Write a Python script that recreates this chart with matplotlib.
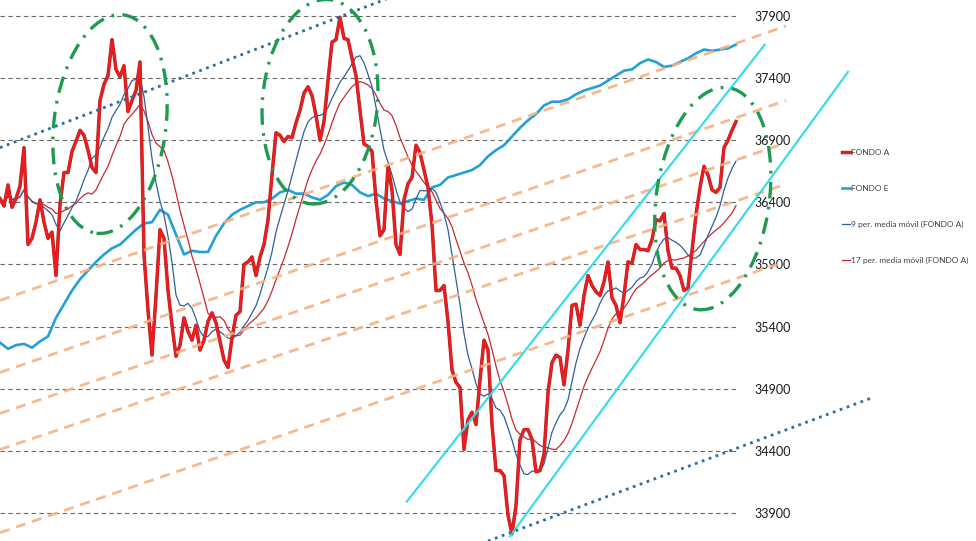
import numpy as np
import pandas as pd
import matplotlib
matplotlib.use('Agg')
import matplotlib.pyplot as plt
import matplotlib.patheffects as pe
import matplotlib.transforms as mtransforms
from matplotlib.patches import Ellipse
from matplotlib.lines import Line2D

# daily closes, FONDO A (one value per trading day)
fondo_a = [36430, 36370, 36540, 36360, 36430, 36530, 36840, 36060, 36110, 36240,
           36420, 36240, 36110, 36160, 35810, 36380, 36640, 36640, 36810, 36890,
           36980, 36940, 36820, 36680, 36640, 37220, 37350, 37420, 37710, 37470,
           37410, 37500, 37130, 37220, 37300, 37530, 35980, 35530, 35170, 35650,
           36180, 36110, 35690, 35410, 35160, 35250, 35470, 35360, 35290, 35410,
           35210, 35290, 35440, 35510, 35430, 35280, 35130, 35070, 35310, 35490,
           35520, 35900, 35920, 35960, 35810, 35960, 36060, 36260, 36620, 36960,
           36940, 36890, 36930, 36920, 37040, 37140, 37280, 37330, 37260, 37100,
           36900, 37050, 37380, 37690, 37710, 37890, 37720, 37710, 37560, 37420,
           37140, 36870, 36850, 36810, 36420, 36130, 36180, 36690, 36500, 36060,
           35980, 36420, 36550, 36600, 36860, 36800, 36660, 36520, 36220, 35690,
           35690, 35730, 35440, 35050, 34950, 34910, 34410, 34650, 34710, 34610,
           34970, 35290, 35210, 34610, 34240, 34240, 34200, 33880, 33730, 33960,
           34490, 34570, 34570, 34490, 34230, 34240, 34370, 34870, 35110, 35170,
           35150, 34930, 35210, 35570, 35580, 35410, 35650, 35810, 35730, 35680,
           35650, 35760, 35920, 35630, 35570, 35430, 35650, 35920, 35910, 36060,
           36020, 36020, 36010, 36100, 36260, 36250, 36310, 36010, 35870, 35870,
           35810, 35690, 35710, 36010, 36300, 36520, 36690, 36620, 36500, 36480,
           36520, 36840, 36900, 36980, 37050]

# FONDO E, read every second day
fondo_e = [35270, 35220, 35250, 35260, 35230, 35280, 35320, 35470, 35580, 35690,
           35780, 35850, 35920, 35980, 36030, 36060, 36120, 36180, 36230, 36240,
           36340, 36300, 36140, 35980, 36010, 36000, 36000, 36130, 36230, 36300,
           36340, 36370, 36400, 36400, 36430, 36480, 36500, 36470, 36470, 36440,
           36420, 36460, 36530, 36560, 36540, 36480, 36450, 36470, 36430, 36410,
           36390, 36410, 36430, 36420, 36520, 36540, 36600, 36620, 36640, 36660,
           36700, 36770, 36820, 36860, 36930, 37000, 37060, 37110, 37180, 37210,
           37210, 37230, 37270, 37300, 37320, 37340, 37380, 37420, 37460, 37470,
           37520, 37550, 37530, 37490, 37500, 37530, 37560, 37600, 37630, 37620,
           37630, 37640, 37670]

y_ticks = [33900, 34400, 34900, 35400, 35900, 36400, 36900, 37400, 37900]

labels = ['FONDO A', 'FONDO E', '9 per. media móvil (FONDO A)',
          '17 per. media móvil (FONDO A)']

# hand drawn trend lines: (day0, value0, day1, value1)
orange_lines = [(0, 35610, 196.5, 37820),
                (0, 35030, 196.5, 37220),
                (0, 34700, 195.7, 36870),
                (0, 34410, 195.0, 36530),
                (0, 33740, 194.2, 35900)]
cyan_lines = [(101.7, 33990, 191.2, 37670),
              (127.5, 33710, 212.0, 37450)]
dotted_lines = [(0, 36840, 100, 38080),
                (122, 33673, 217.5, 34820)]
# circled zones: centre day, centre value
zone_day = [27.5, 80, 178.2]
zone_val = [37030, 37210, 36430]

# moving averages of FONDO A
s = pd.Series(fondo_a)
ma9 = s.rolling(9, min_periods=1).mean()
ma17 = s.rolling(17, min_periods=1).mean()

W, H = 976, 541
fig = plt.figure(figsize=(W / 100, H / 100), dpi=100)
ax = fig.add_axes([0, 0, 738 / W, 1])
ax.set_xlim(0, 184.5)
ax.set_ylim(33673, 38029)

x_a = np.arange(len(fondo_a))
x_e = np.arange(len(fondo_e)) * 2

# gridlines + right side labels
ax.set_yticks(y_ticks)
ax.grid(axis='y', linestyle=(0, (4, 3)), color='#6a6a6a', lw=0.8)
ax.yaxis.tick_right()
ax.tick_params(axis='y', length=0, pad=12, labelsize=9, labelcolor='#1a1a1a')
for t in ax.get_yticklabels():
    t.set_family('Lato')
ax.set_xticks([])
for sp in ax.spines.values():
    sp.set_visible(False)

red = '#ee1c1c'
red_fx = [pe.Stroke(linewidth=2.5, foreground='#a3262c'), pe.Normal()]

ax.plot(x_e, fondo_e, color='#23a0d8', lw=1.9, zorder=3)
ax.plot(x_a, ma17, color='#c8282e', lw=0.9, zorder=4)
ax.plot(x_a, ma9, color='#2f5f9e', lw=0.9, zorder=4)
ax.plot(x_a, fondo_a, color=red, lw=1.8, zorder=5, path_effects=red_fx)

for x0, y0, x1, y1 in orange_lines:
    ax.plot([x0, x1], [y0, y1], color='#f4b183', lw=2.0, alpha=0.9,
            linestyle=(0, (3.6, 2.5)), zorder=6, clip_on=False)
for x0, y0, x1, y1 in cyan_lines:
    ax.plot([x0, x1], [y0, y1], color='#2fdcea', lw=1.5, zorder=7, clip_on=False)
for x0, y0, x1, y1 in dotted_lines:
    ax.plot([x0, x1], [y0, y1], color='#2f6d9e', lw=2.0, linestyle=':',
            zorder=7, clip_on=False)

# ellipses sized in pixels, centred on the data
zone_w = [112, 115, 113]
zone_h = [220, 205, 224]
zone_tilt = [-7, -5, -8]
for cx, cy, w, h, a in zip(zone_day, zone_val, zone_w, zone_h, zone_tilt):
    e = Ellipse((0, 0), w, h, angle=a, fill=False, edgecolor='#1e9b4f', lw=2.4,
                linestyle=(0, (5, 2.5, 0.8, 2.5)), zorder=8, clip_on=False,
                transform=mtransforms.ScaledTranslation(cx, cy, ax.transData))
    ax.add_artist(e)

handles = [Line2D([], [], color=red, lw=1.8, path_effects=red_fx),
           Line2D([], [], color='#23a0d8', lw=1.9),
           Line2D([], [], color='#2f5f9e', lw=0.9),
           Line2D([], [], color='#c8282e', lw=0.9)]
leg = fig.legend(handles, labels, loc='upper left',
                 bbox_to_anchor=(842 / W, 1 - 149 / H), frameon=False,
                 prop={'family': 'Lato', 'size': 6}, handlelength=1.0,
                 handletextpad=0.1, labelspacing=3.45, borderpad=0,
                 borderaxespad=0)
for t in leg.get_texts():
    t.set_color('#404040')

fig.savefig('out.png', dpi=100)
